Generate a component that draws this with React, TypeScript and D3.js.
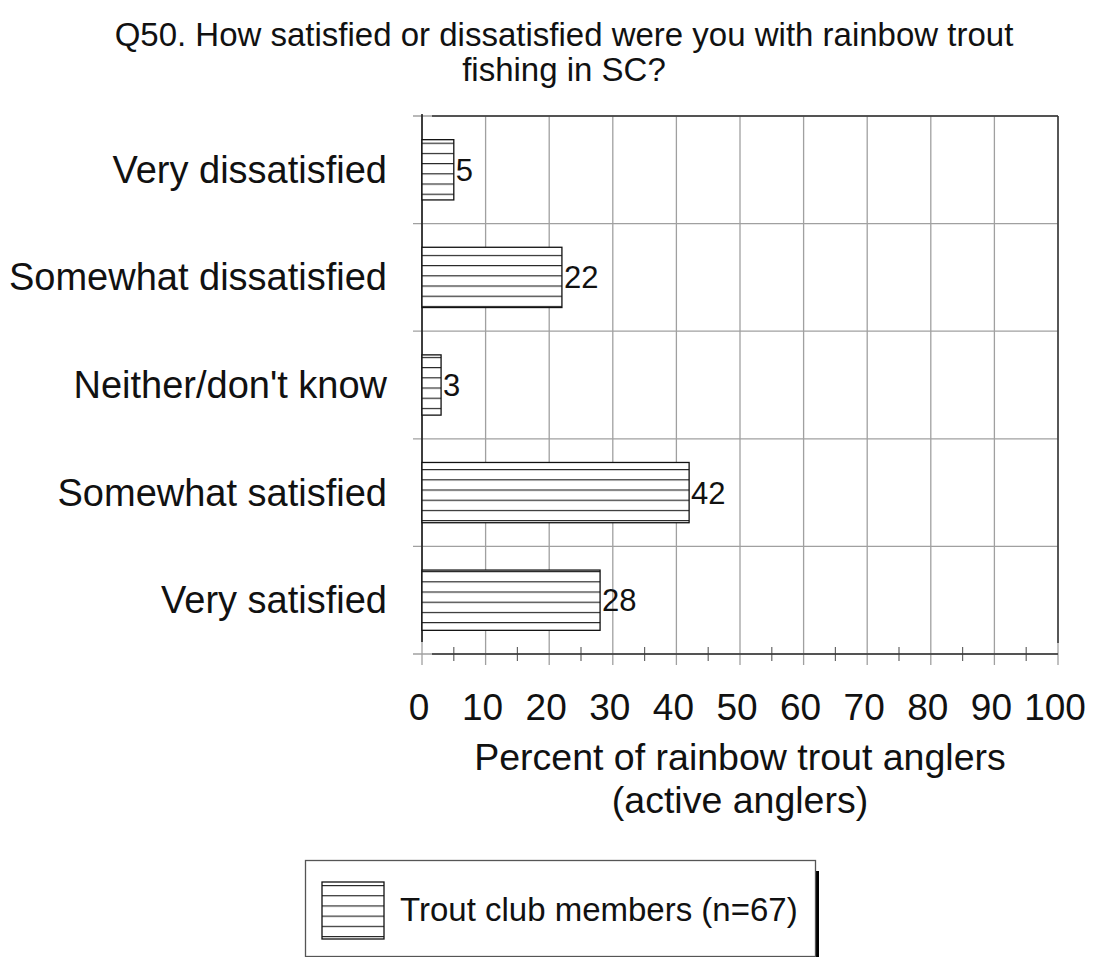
import React from "react";
import * as d3 from "d3";

const categories = [
  "Very dissatisfied",
  "Somewhat dissatisfied",
  "Neither/don't know",
  "Somewhat satisfied",
  "Very satisfied",
];
const values = [5, 22, 3, 42, 28];
const xTicks = [0, 10, 20, 30, 40, 50, 60, 70, 80, 90, 100];
const minorTicks = [5, 15, 25, 35, 45, 55, 65, 75, 85, 95];
const titleLines = [
  "Q50. How satisfied or dissatisfied were you with rainbow trout",
  "fishing in SC?",
];
const axisTitleLines = ["Percent of rainbow trout anglers", "(active anglers)"];
const legendLabel = "Trout club members (n=67)";

const W = 1093;
const H = 957;
const L = 422;
const R = 1058;
const T = 116;
const B = 654;
const FONT = "Arial, 'Liberation Sans', Helvetica, sans-serif";

export default function App() {
  const x = d3.scaleLinear().domain([0, 100]).range([L, R]);
  const y = d3
    .scaleBand<string>()
    .domain(categories)
    .range([T, B])
    .paddingInner(0.44)
    .paddingOuter(0.22);
  const step = y.step();
  const bounds = d3.range(categories.length + 1).map((i) => T + i * step);
  const grid = "#a0a0a0";

  return (
    <svg
      width={W}
      height={H}
      style={{ position: "absolute", left: 0, top: 0, background: "#fff" }}
      fontFamily={FONT}
    >
      <defs>
        <pattern
          id="hatch"
          patternUnits="userSpaceOnUse"
          width={8}
          height={10.2}
          y={T + 0.22 * step + 3}
        >
          <rect width={8} height={10.2} fill="#fff" />
          <line x1={0} x2={8} y1={0.5} y2={0.5} stroke="#222" strokeWidth={1.3} />
        </pattern>
        <pattern
          id="hatchLeg"
          patternUnits="userSpaceOnUse"
          width={8}
          height={10.2}
          y={885}
        >
          <rect width={8} height={10.2} fill="#fff" />
          <line x1={0} x2={8} y1={0.5} y2={0.5} stroke="#222" strokeWidth={1.3} />
        </pattern>
      </defs>

      {/* title */}
      {titleLines.map((t, i) => (
        <text
          key={t}
          x={564}
          y={46 + i * 35}
          textAnchor="middle"
          fontSize={33}
          fill="#111"
        >
          {t}
        </text>
      ))}

      {/* horizontal gridlines */}
      {bounds.map((b, i) => (
        <line key={"h" + i} x1={413} x2={R} y1={b} y2={b} stroke={grid} strokeWidth={1.3} />
      ))}
      {/* vertical gridlines */}
      {xTicks.map((t) => (
        <line key={"v" + t} x1={x(t)} x2={x(t)} y1={T} y2={665} stroke={grid} strokeWidth={1.3} />
      ))}
      {/* minor ticks */}
      {minorTicks.map((t) => (
        <line key={"m" + t} x1={x(t)} x2={x(t)} y1={647} y2={661} stroke="#666" strokeWidth={1.2} />
      ))}

      {/* frame */}
      <line x1={432} x2={R} y1={T} y2={T} stroke="#333" strokeWidth={1.5} />
      <line x1={R} x2={R} y1={T} y2={643} stroke="#333" strokeWidth={1.5} />
      <line x1={432} x2={R} y1={B} y2={B} stroke="#333" strokeWidth={1.5} />
      <line x1={L} x2={L} y1={T - 2} y2={642} stroke="#111" strokeWidth={1.5} />

      {/* bars */}
      {categories.map((c, i) => (
        <g key={c}>
          <rect
            x={x(0)}
            y={y(c)!}
            width={x(values[i]) - x(0)}
            height={y.bandwidth()}
            fill="url(#hatch)"
            stroke="#111"
            strokeWidth={1.3}
          />
          <text
            x={x(values[i]) + 2}
            y={y(c)! + y.bandwidth() / 2 + 11}
            fontSize={31}
            fill="#111"
          >
            {values[i]}
          </text>
          <text
            x={387}
            y={y(c)! + y.bandwidth() / 2 + 13}
            textAnchor="end"
            fontSize={38}
            fill="#111"
          >
            {c}
          </text>
        </g>
      ))}

      {/* tick labels */}
      {xTicks.map((t) => (
        <text
          key={"t" + t}
          x={x(t) - 3}
          y={720}
          textAnchor="middle"
          fontSize={37}
          fill="#111"
        >
          {t}
        </text>
      ))}

      {/* axis title */}
      {axisTitleLines.map((t, i) => (
        <text
          key={t}
          x={(L + R) / 2}
          y={770 + i * 43}
          textAnchor="middle"
          fontSize={37.5}
          fill="#111"
        >
          {t}
        </text>
      ))}

      {/* legend */}
      <rect x={815} y={871} width={4} height={H - 871} fill="#000" />
      <rect x={305.5} y={860.5} width={510} height={96} fill="#fff" stroke="#555" strokeWidth={1.3} />
      <rect x={322} y={882} width={62} height={57} fill="url(#hatchLeg)" stroke="#111" strokeWidth={1.3} />
      <text x={400} y={921} fontSize={33} fill="#111">
        {legendLabel}
      </text>
    </svg>
  );
}
